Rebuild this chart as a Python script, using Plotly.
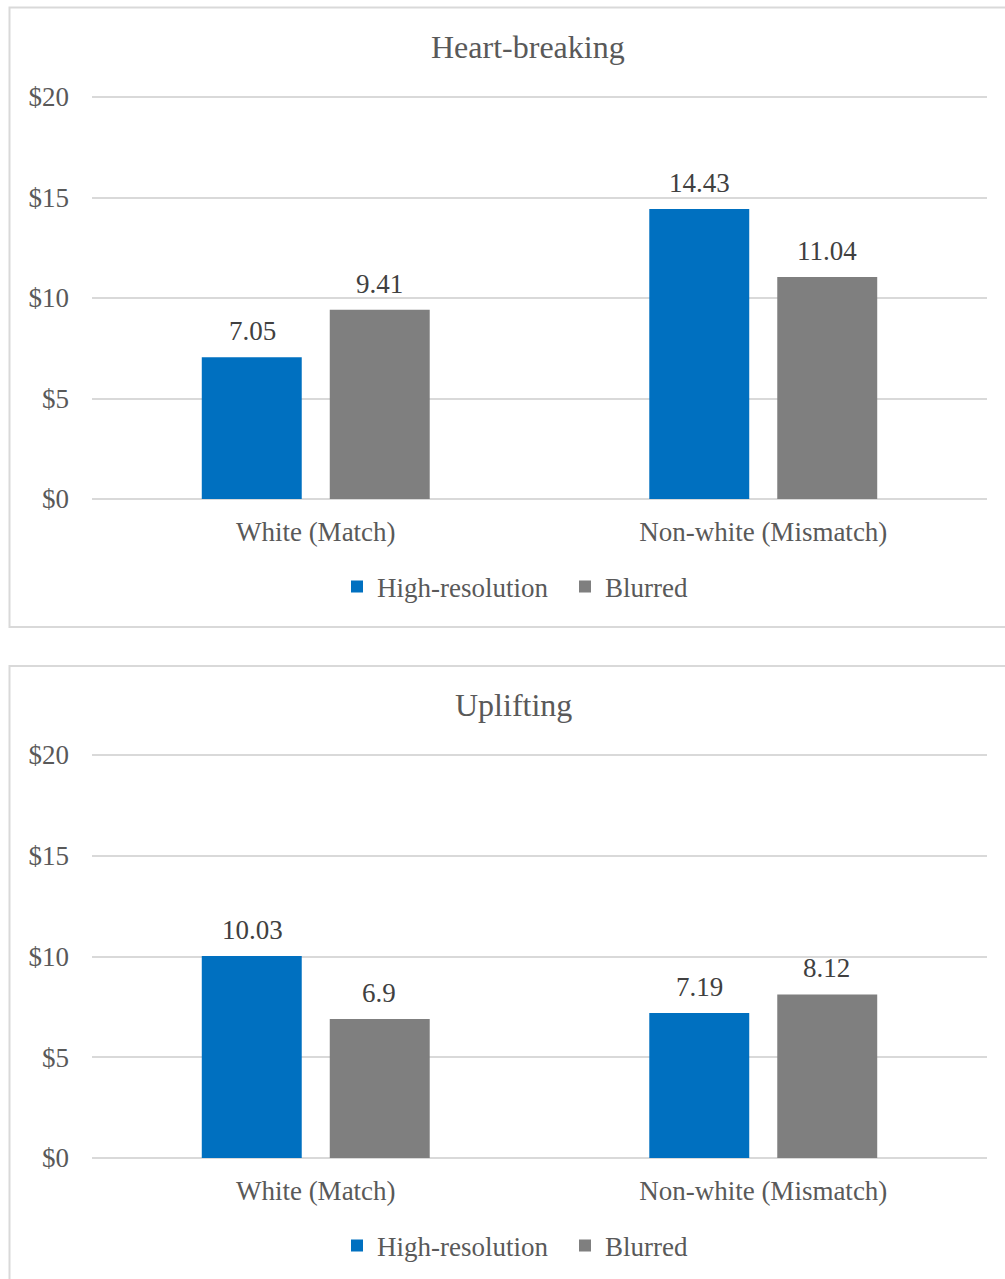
import plotly.graph_objects as go

# Average donation by photo resolution and race match, two emotional framings
categories = ["White (Match)", "Non-white (Mismatch)"]
series_names = ["High-resolution", "Blurred"]

heart_high = [7.05, 14.43]
heart_blur = [9.41, 11.04]
uplift_high = [10.03, 7.19]
uplift_blur = [6.9, 8.12]

panel_titles = ["Heart-breaking", "Uplifting"]
y_tick_vals = [0, 5, 10, 15, 20]
y_tick_text = ["$0", "$5", "$10", "$15", "$20"]

W, H = 1005, 1279
FONT = "Liberation Serif"
TEXT = "#595959"
LABEL = "#404040"
GRID = "#d9d9d9"
BLUE = "#0070C0"
GRAY = "#7F7F7F"

Y_TOP = 20.2  # a little headroom so the $20 gridline is drawn


def px_x(v):
    return v / W


def px_y(v):
    return 1 - v / H


def y_domain(zero_px, twenty_px):
    ppu = (zero_px - twenty_px) / 20.0
    return [px_y(zero_px), px_y(zero_px - Y_TOP * ppu)]


fig = go.Figure()

panels = [
    dict(high=heart_high, blur=heart_blur, xa="x", ya="y", leg="legend"),
    dict(high=uplift_high, blur=uplift_blur, xa="x2", ya="y2", leg="legend2"),
]

for p in panels:
    for name, vals, col in [(series_names[0], p["high"], BLUE),
                            (series_names[1], p["blur"], GRAY)]:
        fig.add_trace(go.Bar(
            x=categories, y=vals, name=name, marker=dict(color=col, line=dict(width=0)),
            xaxis=p["xa"], yaxis=p["ya"], legend=p["leg"], hoverinfo="x+y+name",
        ))

# value labels above each bar
annotations = []
for p in panels:
    for vals, shift in [(p["high"], -63.5), (p["blur"], 63.5)]:
        for c, v in zip(categories, vals):
            annotations.append(dict(
                x=c, y=v, xref=p["xa"], yref=p["ya"], text=f"{v:g}",
                showarrow=False, xshift=shift, yshift=9, yanchor="bottom",
                font=dict(family=FONT, size=27, color=LABEL),
            ))

# panel titles
annotations.append(dict(x=px_x(528), y=px_y(47), xref="paper", yref="paper",
                        text=panel_titles[0], showarrow=False, xanchor="center",
                        yanchor="middle", font=dict(family=FONT, size=32, color=TEXT)))
annotations.append(dict(x=px_x(513), y=px_y(705), xref="paper", yref="paper",
                        text=panel_titles[1], showarrow=False, xanchor="center",
                        yanchor="middle", font=dict(family=FONT, size=32, color=TEXT)))

# chart-area borders (right and lower edges run off the page)
shapes = [
    dict(type="rect", xref="paper", yref="paper", x0=px_x(9.5), x1=px_x(1015),
         y0=px_y(627), y1=px_y(7.5), line=dict(color=GRID, width=2), fillcolor="rgba(0,0,0,0)"),
    dict(type="rect", xref="paper", yref="paper", x0=px_x(9.5), x1=px_x(1015),
         y0=px_y(1295), y1=px_y(666), line=dict(color=GRID, width=2), fillcolor="rgba(0,0,0,0)"),
]

x_common = dict(domain=[px_x(92), px_x(987)], showgrid=False, showline=False, zeroline=False,
                ticks="", ticklabelstandoff=14,
                tickfont=dict(family=FONT, size=27, color=TEXT), fixedrange=True)
y_common = dict(range=[0, Y_TOP], tickvals=y_tick_vals, ticktext=y_tick_text,
                showgrid=True, gridcolor=GRID, gridwidth=1.5, zeroline=True,
                zerolinecolor=GRID, zerolinewidth=1.5, showline=False, ticks="",
                ticklabelstandoff=22, tickfont=dict(family=FONT, size=27, color=TEXT),
                fixedrange=True)

legend_common = dict(orientation="h", xanchor="left", yanchor="middle",
                     entrywidth=183, entrywidthmode="pixels",
                     font=dict(family=FONT, size=27, color=TEXT),
                     bgcolor="rgba(0,0,0,0)", itemclick=False, itemdoubleclick=False)

fig.update_layout(
    width=W, height=H,
    margin=dict(l=0, r=0, t=0, b=0, pad=0, autoexpand=False),
    paper_bgcolor="white", plot_bgcolor="white",
    barmode="group", bargap=0.428, bargroupgap=0.219,
    xaxis=dict(**x_common, anchor="y"),
    yaxis=dict(**y_common, domain=y_domain(499, 97), anchor="x"),
    xaxis2=dict(**x_common, anchor="y2"),
    yaxis2=dict(**y_common, domain=y_domain(1158, 755), anchor="x2"),
    legend=dict(**legend_common, x=px_x(337), y=px_y(587)),
    legend2=dict(**legend_common, x=px_x(337), y=px_y(1246)),
    annotations=annotations,
    shapes=shapes,
    showlegend=True,
)

fig.write_html("out.html")
